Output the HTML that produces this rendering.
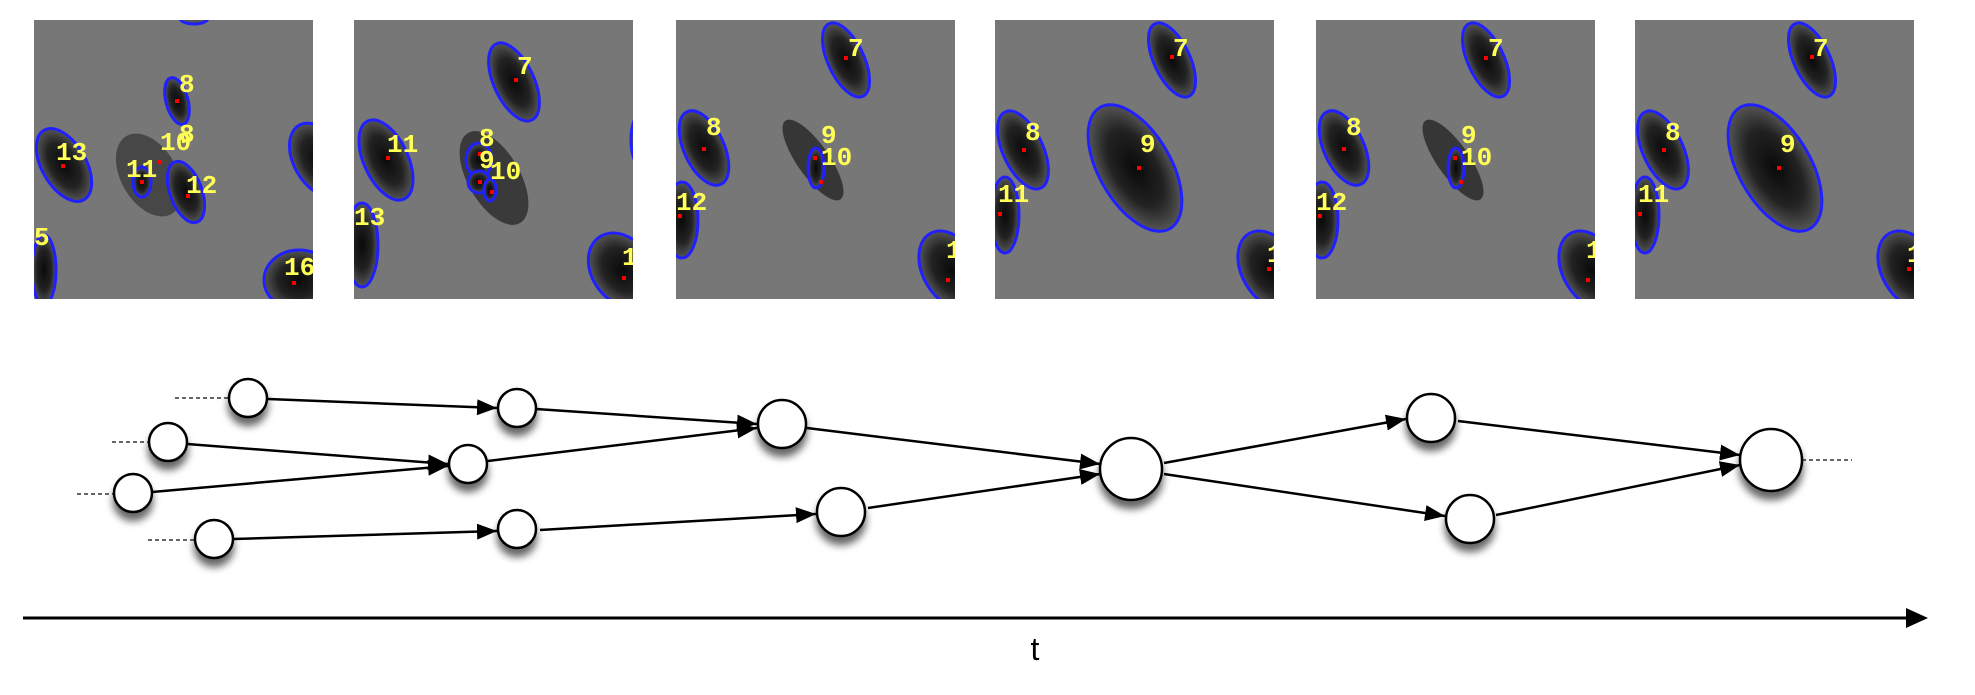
<!DOCTYPE html>
<html><head><meta charset="utf-8"><style>
html,body{margin:0;padding:0;background:#fff;}
svg{display:block;}
.n{font-family:"Liberation Mono",monospace;font-weight:bold;fill:#ffff55;font-size:26px;}
</style></head><body>
<svg width="1975" height="695" viewBox="0 0 1975 695" xmlns="http://www.w3.org/2000/svg">
<defs>
<radialGradient id="bg" cx="50%" cy="50%" r="50%">
<stop offset="0" stop-color="#0a0a0a"/><stop offset="0.6" stop-color="#222"/><stop offset="1" stop-color="#555"/>
</radialGradient>
<filter id="sh" x="-50%" y="-50%" width="200%" height="220%">
<feGaussianBlur in="SourceAlpha" stdDeviation="4"/><feOffset dx="0" dy="8"/>
<feComponentTransfer><feFuncA type="linear" slope="0.6"/></feComponentTransfer>
<feMerge><feMergeNode/><feMergeNode in="SourceGraphic"/></feMerge>
</filter>
<marker id="ar" viewBox="0 0 20 16" refX="20" refY="8" markerWidth="20" markerHeight="16" markerUnits="userSpaceOnUse" orient="auto">
<path d="M0,0 L20,8 L0,16 z" fill="#000"/></marker>
<clipPath id="cp"><rect x="0" y="0" width="279" height="279"/></clipPath>
</defs>

<!-- Panel 1 -->
<g transform="translate(34,20)"><g clip-path="url(#cp)">
<rect width="279" height="279" fill="#777"/>
<ellipse cx="160" cy="-2" rx="14" ry="6" fill="#555" stroke="#2020ff" stroke-width="3"/>
<ellipse cx="143" cy="81" rx="11" ry="24" transform="rotate(-15 143 81)" fill="url(#bg)" stroke="#2020ff" stroke-width="3"/>
<ellipse cx="30" cy="145" rx="22" ry="40" transform="rotate(-30 30 145)" fill="url(#bg)" stroke="#2020ff" stroke-width="3"/>
<ellipse cx="115" cy="155" rx="28" ry="45" transform="rotate(-30 115 155)" fill="#333" opacity="0.7"/>
<ellipse cx="108" cy="162" rx="9" ry="15" fill="url(#bg)" stroke="#2020ff" stroke-width="3"/>
<ellipse cx="152" cy="172" rx="16" ry="32" transform="rotate(-20 152 172)" fill="url(#bg)" stroke="#2020ff" stroke-width="3"/>
<ellipse cx="10" cy="250" rx="12" ry="35" fill="url(#bg)" stroke="#2020ff" stroke-width="3"/>
<ellipse cx="265" cy="260" rx="35" ry="30" fill="url(#bg)" stroke="#2020ff" stroke-width="3"/>
<ellipse cx="285" cy="140" rx="25" ry="40" transform="rotate(-30 285 140)" fill="url(#bg)" stroke="#2020ff" stroke-width="3"/>
<g fill="#f00"><rect x="141" y="79" width="4" height="4"/><rect x="27" y="144" width="4" height="4"/><rect x="106" y="160" width="4" height="4"/><rect x="152" y="174" width="4" height="4"/><rect x="258" y="261" width="4" height="4"/><rect x="124" y="140" width="4" height="4"/></g>
<text class="n" x="145" y="72">8</text><text class="n" x="145" y="122">8</text><text class="n" x="126" y="130">10</text>
<text class="n" x="22" y="140">13</text><text class="n" x="92" y="157">11</text><text class="n" x="152" y="173">12</text>
<text class="n" x="0" y="225">5</text><text class="n" x="250" y="255">16</text>
</g></g>

<!-- Panel 2 -->
<g transform="translate(354,20)"><g clip-path="url(#cp)">
<rect width="279" height="279" fill="#777"/>
<ellipse cx="160" cy="62" rx="20" ry="42" transform="rotate(-25 160 62)" fill="url(#bg)" stroke="#2020ff" stroke-width="3"/>
<ellipse cx="32" cy="140" rx="22" ry="43" transform="rotate(-25 32 140)" fill="url(#bg)" stroke="#2020ff" stroke-width="3"/>
<ellipse cx="140" cy="158" rx="26" ry="52" transform="rotate(-30 140 158)" fill="#2a2a2a" opacity="0.8"/>
<ellipse cx="125" cy="140" rx="13" ry="17" fill="url(#bg)" stroke="#2020ff" stroke-width="3"/>
<ellipse cx="125" cy="162" rx="11" ry="11" fill="url(#bg)" stroke="#2020ff" stroke-width="3"/>
<ellipse cx="136" cy="170" rx="6" ry="11" fill="url(#bg)" stroke="#2020ff" stroke-width="3"/>
<ellipse cx="8" cy="225" rx="16" ry="42" fill="url(#bg)" stroke="#2020ff" stroke-width="3"/>
<ellipse cx="268" cy="250" rx="30" ry="40" transform="rotate(-35 268 250)" fill="url(#bg)" stroke="#2020ff" stroke-width="3"/>
<ellipse cx="285" cy="120" rx="8" ry="24" fill="#555" stroke="#2020ff" stroke-width="3"/>
<g fill="#f00"><rect x="160" y="58" width="4" height="4"/><rect x="32" y="136" width="4" height="4"/><rect x="124" y="132" width="4" height="4"/><rect x="124" y="160" width="4" height="4"/><rect x="136" y="170" width="4" height="4"/><rect x="268" y="256" width="4" height="4"/></g>
<text class="n" x="163" y="54">7</text><text class="n" x="33" y="132">11</text><text class="n" x="125" y="126">8</text>
<text class="n" x="125" y="148">9</text><text class="n" x="136" y="159">10</text><text class="n" x="0" y="205">13</text><text class="n" x="268" y="245">1</text>
</g></g>

<!-- Panel 3 & 5 -->
<g id="p3" transform="translate(676,20)"><g clip-path="url(#cp)">
<rect width="279" height="279" fill="#777"/>
<ellipse cx="170" cy="40" rx="18" ry="40" transform="rotate(-25 170 40)" fill="url(#bg)" stroke="#2020ff" stroke-width="3"/>
<ellipse cx="28" cy="128" rx="20" ry="40" transform="rotate(-25 28 128)" fill="url(#bg)" stroke="#2020ff" stroke-width="3"/>
<ellipse cx="137" cy="140" rx="16" ry="48" transform="rotate(-35 137 140)" fill="#2a2a2a" opacity="0.85"/>
<ellipse cx="140" cy="148" rx="8" ry="20" fill="url(#bg)" stroke="#2020ff" stroke-width="3"/>
<ellipse cx="6" cy="200" rx="16" ry="38" fill="url(#bg)" stroke="#2020ff" stroke-width="3"/>
<ellipse cx="275" cy="250" rx="28" ry="42" transform="rotate(-30 275 250)" fill="url(#bg)" stroke="#2020ff" stroke-width="3"/>
<g fill="#f00"><rect x="168" y="36" width="4" height="4"/><rect x="26" y="127" width="4" height="4"/><rect x="137" y="136" width="4" height="4"/><rect x="143" y="160" width="4" height="4"/><rect x="270" y="258" width="4" height="4"/><rect x="2" y="194" width="4" height="4"/></g>
<text class="n" x="172" y="36">7</text><text class="n" x="30" y="115">8</text><text class="n" x="145" y="123">9</text>
<text class="n" x="145" y="145">10</text><text class="n" x="0" y="190">12</text><text class="n" x="270" y="238">1</text>
</g></g>
<use href="#p3" transform="translate(640,0)"/>

<!-- Panel 4 & 6 -->
<g id="p4" transform="translate(995,20)"><g clip-path="url(#cp)">
<rect width="279" height="279" fill="#777"/>
<ellipse cx="177" cy="40" rx="18" ry="40" transform="rotate(-25 177 40)" fill="url(#bg)" stroke="#2020ff" stroke-width="3"/>
<ellipse cx="28" cy="130" rx="20" ry="42" transform="rotate(-25 28 130)" fill="url(#bg)" stroke="#2020ff" stroke-width="3"/>
<ellipse cx="140" cy="148" rx="36" ry="70" transform="rotate(-30 140 148)" fill="url(#bg)" stroke="#2020ff" stroke-width="3"/>
<ellipse cx="10" cy="195" rx="14" ry="38" fill="url(#bg)" stroke="#2020ff" stroke-width="3"/>
<ellipse cx="275" cy="250" rx="28" ry="42" transform="rotate(-30 275 250)" fill="url(#bg)" stroke="#2020ff" stroke-width="3"/>
<g fill="#f00"><rect x="175" y="35" width="4" height="4"/><rect x="27" y="128" width="4" height="4"/><rect x="142" y="146" width="4" height="4"/><rect x="3" y="192" width="4" height="4"/><rect x="272" y="247" width="4" height="4"/></g>
<text class="n" x="178" y="36">7</text><text class="n" x="30" y="120">8</text><text class="n" x="145" y="132">9</text>
<text class="n" x="3" y="182">11</text><text class="n" x="272" y="242">1</text>
</g></g>
<use href="#p4" transform="translate(640,0)"/>

<!-- dashed tails -->
<g stroke="#666" stroke-width="2" stroke-dasharray="4,3">
<line x1="175" y1="398" x2="230" y2="398"/><line x1="112" y1="442" x2="150" y2="442"/>
<line x1="77" y1="494" x2="114" y2="494"/><line x1="148" y1="540" x2="196" y2="540"/>
<line x1="1802" y1="460" x2="1852" y2="460"/>
</g>

<!-- edges -->
<g stroke="#000" stroke-width="2.5" fill="none" marker-end="url(#ar)">
<line x1="268" y1="399" x2="497" y2="408"/>
<line x1="187" y1="444" x2="448" y2="464"/>
<line x1="152" y1="492" x2="448" y2="466"/>
<line x1="234" y1="539" x2="497" y2="531"/>
<line x1="536" y1="409" x2="757" y2="424"/>
<line x1="488" y1="461" x2="757" y2="428"/>
<line x1="540" y1="530" x2="816" y2="514"/>
<line x1="807" y1="428" x2="1100" y2="464"/>
<line x1="868" y1="508" x2="1100" y2="474"/>
<line x1="1164" y1="463" x2="1406" y2="419"/>
<line x1="1164" y1="474" x2="1445" y2="516"/>
<line x1="1458" y1="421" x2="1740" y2="455"/>
<line x1="1496" y1="515" x2="1740" y2="465"/>
</g>

<!-- nodes -->
<g fill="#fff" stroke="#000" stroke-width="2.5" filter="url(#sh)">
<ellipse cx="248" cy="398" rx="19" ry="19"/>
<ellipse cx="168" cy="442" rx="19" ry="19"/>
<ellipse cx="133" cy="493" rx="19" ry="19"/>
<ellipse cx="214" cy="539" rx="19" ry="19"/>
<ellipse cx="517" cy="408" rx="19" ry="19"/>
<ellipse cx="468" cy="464" rx="19" ry="19"/>
<ellipse cx="517" cy="529" rx="19" ry="19"/>
<ellipse cx="782" cy="424" rx="24" ry="24"/>
<ellipse cx="841" cy="512" rx="24" ry="24"/>
<ellipse cx="1131" cy="469" rx="31" ry="31"/>
<ellipse cx="1431" cy="418" rx="24" ry="24"/>
<ellipse cx="1470" cy="519" rx="24" ry="24"/>
<ellipse cx="1771" cy="460" rx="31" ry="31"/>
</g>

<!-- time axis -->
<line x1="23" y1="618" x2="1910" y2="618" stroke="#000" stroke-width="3"/>
<path d="M1906,608 L1928,618 L1906,628 z" fill="#000"/>
<text x="1035" y="660" font-family="Liberation Sans, sans-serif" font-size="32" text-anchor="middle" fill="#000">t</text>
</svg>
</body></html>
